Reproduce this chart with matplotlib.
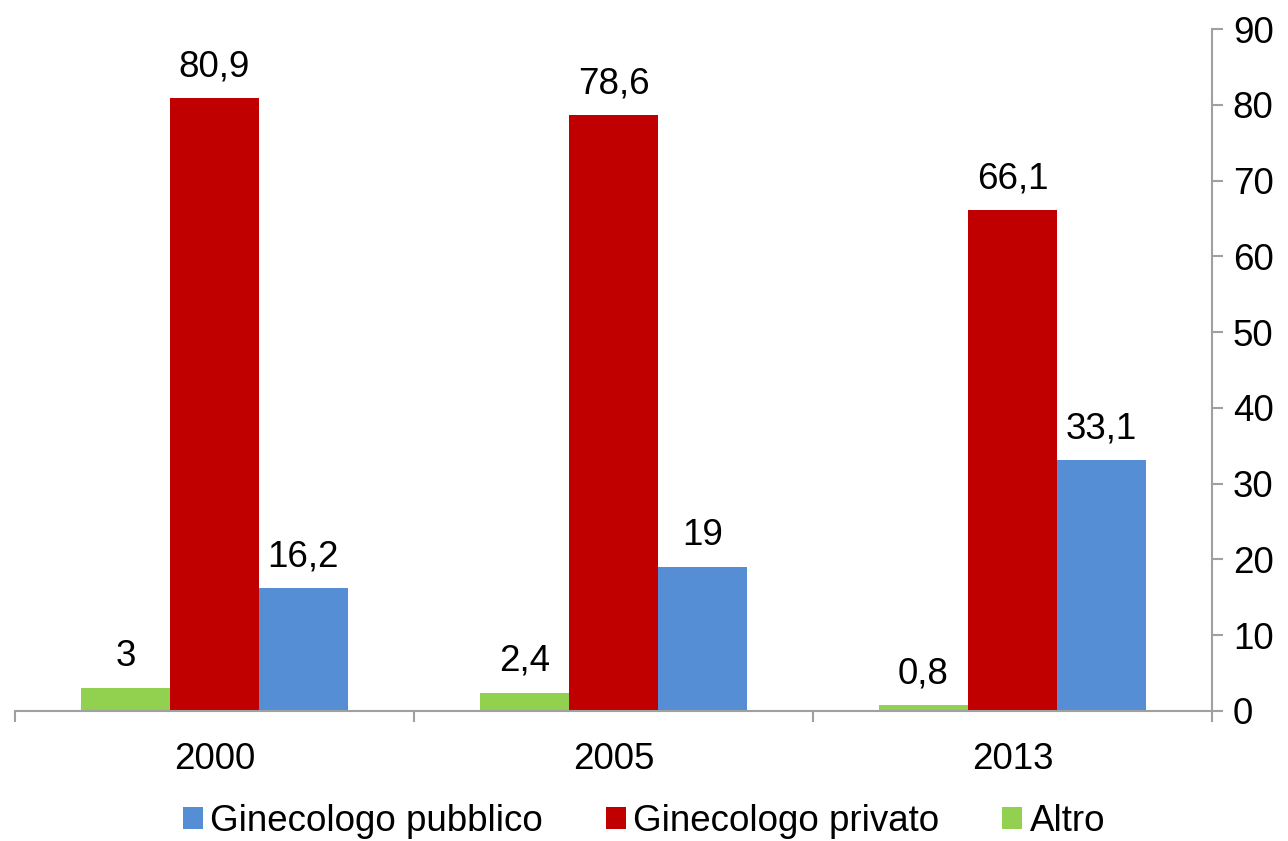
import matplotlib.pyplot as plt
import numpy as np
from matplotlib.ticker import FixedLocator

years = ["2000", "2005", "2013"]
altro = [3, 2.4, 0.8]
privato = [80.9, 78.6, 66.1]
pubblico = [16.2, 19, 33.1]

series = [
    ("Altro", altro, "#92D050"),
    ("Ginecologo privato", privato, "#C00000"),
    ("Ginecologo pubblico", pubblico, "#558ED5"),
]

plt.rcParams["font.family"] = ["Liberation Sans", "DejaVu Sans"]

fig = plt.figure(figsize=(12.88, 8.41), dpi=100)
ax = fig.add_axes([15 / 1288, 130 / 841, 1197 / 1288, 682 / 841])

x = np.arange(len(years))
width = 0.223
bars = {}
for i, (name, vals, color) in enumerate(series):
    pos = x + (i - 1) * width
    bars[name] = ax.bar(pos, vals, width, color=color, label=name, zorder=2)
    for px, v in zip(pos, vals):
        txt = f"{v:g}".replace(".", ",")
        ax.annotate(txt, (px, v), xytext=(0, 10), textcoords="offset points",
                    ha="center", va="bottom", fontsize=26.5, color="black")

ax.set_xlim(-0.5, len(years) - 0.5)
ax.set_ylim(0, 90)
ax.set_yticks(range(0, 91, 10))
ax.yaxis.tick_right()
ax.set_xticks(x)
ax.set_xticklabels(years)
ax.xaxis.set_minor_locator(FixedLocator(np.arange(-0.5, len(years), 1.0)))

for side in ["left", "top"]:
    ax.spines[side].set_visible(False)
for side in ["right", "bottom"]:
    ax.spines[side].set_color("#A0A0A0")
    ax.spines[side].set_linewidth(1.5)

ax.tick_params(axis="y", direction="out", length=8, width=1.5, color="#A0A0A0",
               labelsize=26.5, pad=7)
ax.tick_params(axis="x", which="major", length=0, labelsize=26.5, pad=22)
ax.tick_params(axis="x", which="minor", direction="out", length=8, width=1.5,
               color="#A0A0A0")

handles = [bars["Ginecologo pubblico"], bars["Ginecologo privato"], bars["Altro"]]
labels = ["Ginecologo pubblico", "Ginecologo privato", "Altro"]
fig.legend(handles, labels, loc="center", bbox_to_anchor=(0.5, 0.023), ncol=3,
           frameon=False, fontsize=26.5, handlelength=0.55, handleheight=0.55,
           handletextpad=0.2, columnspacing=1.7)

fig.savefig("out.png", dpi=100)
